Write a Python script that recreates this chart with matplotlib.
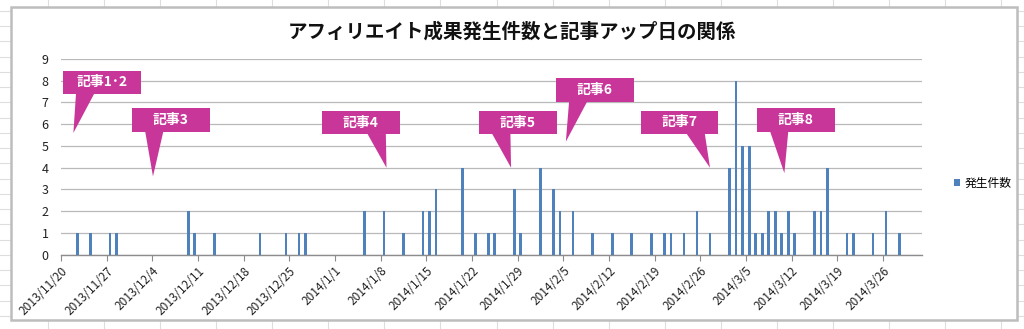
import matplotlib
matplotlib.use("Agg")
import matplotlib.pyplot as plt
import matplotlib.dates as mdates
from matplotlib.patches import Rectangle, Polygon
from matplotlib.lines import Line2D
import pandas as pd

plt.rcParams['font.family'] = ['Noto Sans CJK JP', 'DejaVu Sans']

# ---------- DATA ----------

dates = [
    "2013-11-22", "2013-11-24", "2013-11-27", "2013-11-28", "2013-12-09",
    "2013-12-10", "2013-12-13", "2013-12-20", "2013-12-24", "2013-12-26",
    "2013-12-27", "2014-01-05", "2014-01-08", "2014-01-11", "2014-01-14",
    "2014-01-15", "2014-01-16", "2014-01-20", "2014-01-22", "2014-01-24",
    "2014-01-25", "2014-01-28", "2014-01-29", "2014-02-01", "2014-02-03",
    "2014-02-04", "2014-02-06", "2014-02-09", "2014-02-12", "2014-02-15",
    "2014-02-18", "2014-02-20", "2014-02-21", "2014-02-23", "2014-02-25",
    "2014-02-27", "2014-03-02", "2014-03-03", "2014-03-04", "2014-03-05",
    "2014-03-06", "2014-03-07", "2014-03-08", "2014-03-09", "2014-03-10",
    "2014-03-11", "2014-03-12", "2014-03-15", "2014-03-16", "2014-03-17",
    "2014-03-20", "2014-03-21", "2014-03-24", "2014-03-26", "2014-03-28",
]
counts = [
    1, 1, 1, 1, 2,
    1, 1, 1, 1, 1,
    1, 2, 2, 1, 2,
    2, 3, 4, 1, 1,
    1, 3, 1, 4, 3,
    2, 2, 1, 1, 1,
    1, 1, 1, 1, 2,
    1, 4, 8, 5, 5,
    1, 1, 2, 2, 1,
    2, 1, 2, 2, 4,
    1, 1, 1, 2, 1,
]

series_name = "発生件数"
title = "アフィリエイト成果発生件数と記事アップ日の関係"

axis_start = "2013-11-20"
axis_end = "2014-04-01"
tick_dates = pd.date_range("2013-11-20", "2014-03-26", freq="7D")

# callouts (article upload markers), x in days from axis_start
callout_labels = ["記事1･2", "記事3", "記事4", "記事5", "記事6", "記事7", "記事8"]
callout_tip_day = [1.9, 14.1, 49.9, 69.0, 77.4, 99.5, 110.9]
callout_tip_y = [5.6, 3.6, 4.0, 4.0, 5.2, 4.0, 3.75]
callout_box_day = [0.3, 10.9, 40.0, 64.1, 75.9, 88.9, 106.7]
callout_box_top = [8.46, 6.73, 6.6, 6.61, 8.11, 6.62, 6.73]

BAR_COLOR = "#4F81BD"
CALLOUT_COLOR = "#C8369A"
W, H = 1024, 329

# ---------- FIGURE ----------

fig = plt.figure(figsize=(W / 100, H / 100), dpi=100)

# excel sheet grid behind the chart
x = 47.7
while x < W:
    fig.add_artist(Line2D([x / W, x / W], [0, 1], color="#dedede", lw=0.8,
                          transform=fig.transFigure, zorder=-3))
    x += 56.1
y = 11
while y < H:
    fig.add_artist(Line2D([0, 1], [1 - y / H, 1 - y / H], color="#dedede", lw=0.8,
                          transform=fig.transFigure, zorder=-3))
    y += 15.24

# chart area
fig.add_artist(Rectangle((11 / W, 1 - 320 / H), (1017 - 11) / W, (320 - 7) / H,
                         transform=fig.transFigure, fc="white", ec="#bdbdbd",
                         lw=1.8, zorder=-2))

ax = fig.add_axes([61 / W, 1 - 254.7 / H, (922 - 61) / W, (254.7 - 59) / H])
ax.set_facecolor("none")

x0 = mdates.date2num(pd.Timestamp(axis_start))
x1 = mdates.date2num(pd.Timestamp(axis_end))
bar_x = mdates.date2num(pd.to_datetime(dates)) + 0.5

ax.bar(bar_x, counts, width=0.42, color=BAR_COLOR, label=series_name, zorder=3)

ax.set_xlim(x0, x1)
ax.set_ylim(0, 9)
ax.set_yticks(range(10))
ax.yaxis.grid(True, color="#b9b9b9", lw=0.9, zorder=0)
ax.tick_params(axis="y", length=0, pad=9, labelsize=9, labelcolor="#222222")

ax.set_xticks(mdates.date2num(tick_dates))
ax.set_xticklabels([f"{d.year}/{d.month}/{d.day}" for d in tick_dates],
                   rotation=45, ha="right", rotation_mode="anchor",
                   fontsize=8.5, color="#222222")
ax.tick_params(axis="x", length=4, color="#8c8c8c", pad=3)

for side in ("top", "right", "left"):
    ax.spines[side].set_visible(False)
ax.spines["bottom"].set_color("#8c8c8c")
ax.spines["bottom"].set_linewidth(1.0)

# callouts
box_w, box_h, base_w = 11.9, 1.07, 2.8
for label, tx, ty, bx, top in zip(callout_labels, callout_tip_day, callout_tip_y,
                                  callout_box_day, callout_box_top):
    left = x0 + bx
    bottom = top - box_h
    tip = x0 + tx
    if tip < left + box_w / 2:
        b0 = left + 2.0
    else:
        b0 = left + 7.0
    ax.add_patch(Polygon([(b0, bottom + 0.02), (b0 + base_w, bottom + 0.02), (tip, ty)],
                         closed=True, fc=CALLOUT_COLOR, ec="none", zorder=5,
                         clip_on=False))
    ax.add_patch(Rectangle((left, bottom), box_w, box_h, fc=CALLOUT_COLOR,
                           ec="none", zorder=5, clip_on=False))
    ax.text(left + box_w / 2, bottom + box_h / 2, label, color="white",
            fontsize=10, fontweight="bold", ha="center", va="center", zorder=6)

fig.text(0.5, 1 - 32 / H, title, ha="center", va="center",
         fontsize=14, fontweight="bold", color="#111111")

ax.legend(loc="center left", bbox_to_anchor=(943 / W, 1 - 183 / H),
          bbox_transform=fig.transFigure, frameon=False, fontsize=8.5,
          handlelength=0.55, handleheight=0.55, handletextpad=0.35)

fig.savefig("out.png", dpi=100)
